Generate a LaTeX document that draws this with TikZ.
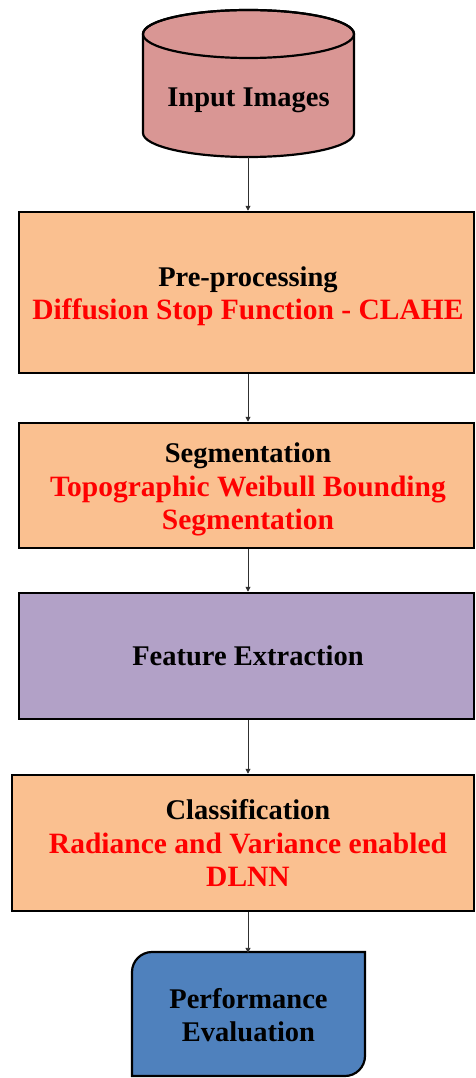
\documentclass[tikz,border=0pt]{standalone}
\usepackage{fontspec}
\setmainfont{Liberation Serif}
\usetikzlibrary{arrows.meta}
\definecolor{cylfill}{HTML}{D99694}
\definecolor{orangefill}{HTML}{FAC090}
\definecolor{purplefill}{HTML}{B2A1C7}
\definecolor{bluefill}{HTML}{4F81BD}
\definecolor{linkgray}{HTML}{303030}
\newcommand{\redline}[1]{{\color{red}\fontsize{29.5}{33.5}\selectfont #1}}
\tikzset{
  x=1pt, y=1pt,
  caption/.style={font=\bfseries\fontsize{28.5}{33.5}\selectfont, align=center, inner sep=0pt},
  stage/.style={draw=black, line width=2.5pt, rectangle, inner sep=0pt},
  link/.style={draw=linkgray, line width=0.9pt, -{Triangle[length=5pt,width=5pt]}},
}
\begin{document}
\begin{tikzpicture}
\useasboundingbox (0,0) rectangle (475,-1078);

% input cylinder
\filldraw[fill=cylfill, draw=black, line width=2.2pt]
  (143,-34) -- (143,-133)
  arc[start angle=180, end angle=360, x radius=105.5, y radius=24]
  -- (354,-34)
  arc[start angle=0, end angle=180, x radius=105.5, y radius=24] -- cycle;
\draw[black, line width=2.2pt] (248.5,-34) ellipse [x radius=105.5, y radius=24];
\node[caption] (inp) at (248.5,-100) {Input Images};
\coordinate (inpbot) at (248,-157);

% processing stages
\node[stage, fill=orangefill, minimum width=455, minimum height=161] (pre) at (246.5,-292.5) {};
\node[caption] (pretext) at (248,-296.5)
  {Pre-processing\\ \redline{Diffusion Stop Function - CLAHE}};
\node[stage, fill=orangefill, minimum width=455, minimum height=125] (seg) at (246.5,-485.5) {};
\node[caption] (segtext) at (248,-489.5)
  {Segmentation\\ \redline{Topographic Weibull Bounding}\\ \redline{Segmentation}};
\node[stage, fill=purplefill, minimum width=455, minimum height=126] (feat) at (246.5,-656) {};
\node[caption] (feattext) at (248,-655.5) {Feature Extraction};
\node[stage, fill=orangefill, minimum width=462, minimum height=136] (cls) at (243,-843) {};
\node[caption] (clstext) at (248,-843)
  {Classification\\ \redline{Radiance and Variance enabled}\\ \redline{DLNN}};

% evaluation terminal with two rounded corners
\filldraw[fill=bluefill, draw=black, line width=2.2pt]
  (132,-1076) -- (132,-972) .. controls (132,-961) and (141,-952) .. (152,-952)
  -- (365,-952) -- (365,-1056) .. controls (365,-1067) and (356,-1076) .. (345,-1076) -- cycle;
\node[caption, minimum width=233, minimum height=124] (ev) at (248.5,-1015)
  {Performance\\ Evaluation};

% connectors
\draw[link] (inpbot) -- (inpbot |- pre.north);
\draw[link] (pre.south -| inpbot) -- (seg.north -| inpbot);
\draw[link] (seg.south -| inpbot) -- (feat.north -| inpbot);
\draw[link] (feat.south -| inpbot) -- (cls.north -| inpbot);
\draw[link] (cls.south -| inpbot) -- (ev.north -| inpbot);
\end{tikzpicture}
\end{document}
